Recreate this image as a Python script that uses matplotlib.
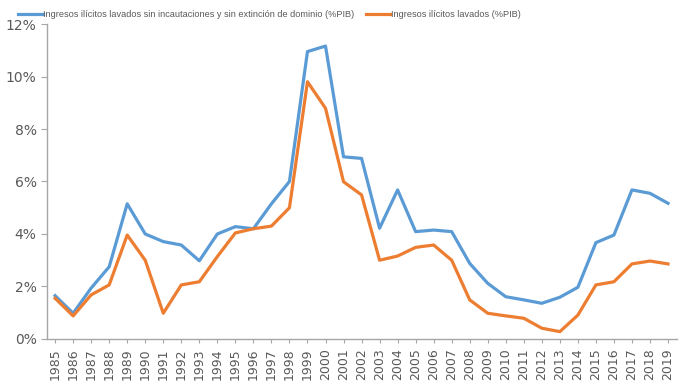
import matplotlib
matplotlib.use("Agg")
import matplotlib.pyplot as plt
from matplotlib.ticker import FuncFormatter

plt.rcParams['font.family'] = ['DejaVu Sans']

years = [str(y) for y in range(1985, 2020)]

sin_incautaciones = [1.65, 0.98, 1.94, 2.75, 5.15, 4.0, 3.71, 3.58, 2.98, 4.0,
                     4.28, 4.2, 5.15, 6.0, 10.95, 11.16, 6.94, 6.88, 4.22, 5.68,
                     4.09, 4.15, 4.09, 2.88, 2.12, 1.61, 1.49, 1.36, 1.59, 1.97,
                     3.67, 3.96, 5.68, 5.55, 5.17]
lavados = [1.55, 0.88, 1.68, 2.06, 3.96, 3.0, 0.98, 2.06, 2.18, 3.14,
           4.04, 4.2, 4.3, 5.0, 9.8, 8.79, 5.99, 5.49, 3.0, 3.16,
           3.49, 3.58, 3.0, 1.49, 0.98, 0.88, 0.79, 0.41, 0.28, 0.91,
           2.06, 2.18, 2.86, 2.97, 2.86]

blue = '#5B9BD5'
orange = '#ED7D31'
gray = '#595959'

fig = plt.figure(figsize=(6.82, 3.86), dpi=100)
ax = fig.add_axes([0.0689, 0.1218, 0.9238, 0.816])

x = range(len(years))
ax.plot(x, sin_incautaciones, color=blue, lw=2.3,
        label='Ingresos ilícitos lavados sin incautaciones y sin extinción de dominio (%PIB)')
ax.plot(x, lavados, color=orange, lw=2.3, label='Ingresos ilícitos lavados (%PIB)')

ax.set_ylim(0, 12)
ax.set_xlim(-0.45, len(years) - 0.5)
ax.set_yticks(range(0, 13, 2))
ax.yaxis.set_major_formatter(FuncFormatter(lambda v, p: '%d%%' % v))
ax.set_xticks(list(x))
ax.set_xticklabels(years, rotation=90)

for s in ['top', 'right']:
    ax.spines[s].set_visible(False)
for s in ['left', 'bottom']:
    ax.spines[s].set_color('#A6A6A6')
    ax.spines[s].set_linewidth(1.0)
ax.tick_params(axis='y', colors='#A6A6A6', labelcolor=gray, labelsize=10, length=4)
ax.tick_params(axis='x', colors='#A6A6A6', labelcolor=gray, labelsize=9, length=3)

fig.legend(loc='upper left', bbox_to_anchor=(0.014, 0.995), ncol=2, frameon=False,
           prop={'family': ['Liberation Sans', 'DejaVu Sans'], 'size': 6.6},
           handlelength=2.7, handletextpad=0.1, columnspacing=1.2,
           labelcolor=gray)

fig.savefig('out.png', dpi=100)
